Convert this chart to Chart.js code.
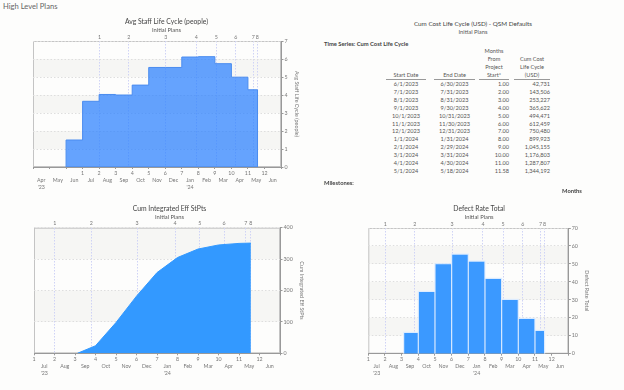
<!DOCTYPE html>
<html>
<head>
<meta charset="utf-8">
<script src="https://cdn.jsdelivr.net/npm/chart.js@4.4.1/dist/chart.umd.min.js"></script>
<style>
  html, body { margin: 0; padding: 0; }
  body { width: 624px; height: 390px; position: relative; overflow: hidden; background: #fdfdfc; font-family: Lato, "Open Sans", sans-serif; color: #555; }
  canvas { position: absolute; }
  .txt { position: absolute; white-space: nowrap; }
  #cost { position: absolute; left: 386px; top: 47px; border-collapse: collapse; table-layout: fixed; font-size: 5.6px; color: #555; }
  #cost th { font-weight: normal; line-height: 8px; vertical-align: bottom; text-align: center; border-bottom: 1px solid #999; padding: 0; }
  #cost th.gap { border-bottom: none; }
  #cost td { line-height: 7.9px; height: 7.9px; padding: 0; white-space: nowrap; }
  #cost td.c { text-align: center; }
  #cost td.r { text-align: right; }
</style>
</head>
<body>
<div class="txt" style="left:3px;top:2px;font-size:7.6px;line-height:9px;color:#666">High Level Plans</div>

<canvas id="staffChart" width="314" height="178" style="left:0;top:14px"></canvas>
<canvas id="effChart" width="314" height="180" style="left:0;top:201px"></canvas>
<canvas id="defectChart" width="314" height="180" style="left:310px;top:201px"></canvas>

<div class="txt" style="left:320px;width:306px;text-align:center;top:20px;font-size:6.3px;line-height:8px;color:#444">Cum Cost Life Cycle (USD) - QSM Defaults</div>
<div class="txt" style="left:320px;width:306px;text-align:center;top:27.5px;font-size:5.8px;line-height:7px">Initial Plans</div>
<div class="txt" style="left:324px;top:40px;font-size:5.8px;line-height:8px;font-weight:bold;color:#444">Time Series: Cum Cost Life Cycle</div>

<table id="cost">
  <colgroup><col style="width:40px"><col style="width:8px"><col style="width:41px"><col style="width:4px"><col style="width:30px"><col style="width:5px"><col style="width:36px"></colgroup>
  <thead>
    <tr><th>Start Date</th><th class="gap"></th><th>End Date</th><th class="gap"></th><th>Months<br>From<br>Project<br>Start*</th><th class="gap"></th><th>Cum Cost<br>Life Cycle<br>(USD)</th></tr>
  </thead>
  <tbody id="rows"></tbody>
</table>

<div class="txt" style="left:324px;top:179px;font-size:5.8px;line-height:8px;font-weight:bold;color:#444">Milestones:</div>
<div class="txt" style="left:562px;top:186.5px;font-size:5.8px;line-height:8px;font-weight:bold;color:#444">Months</div>

<script>
// months are counted from project start (1 Jun 2023 = 0)
const monthNames = ['Apr', 'May', 'Jun', 'Jul', 'Aug', 'Sep', 'Oct', 'Nov', 'Dec', 'Jan', 'Feb', 'Mar', 'Apr', 'May', 'Jun'];
const monthNameOffset = -2;   // monthNames[0] = Apr 2023
const yearLabels = ["'23", "'24"];
const janOffset = 7;

const milestoneMonths = [2.02, 3.79, 6.03, 7.88, 9.09, 10.27, 11.33, 11.57];
const milestoneLabels = ['1', '2', '3', '4', '5', '6', '7', '8'];

// Avg Staff Life Cycle (people): one value per month, edges in months
const staffEdges = [0, 1, 2, 3, 4, 5, 6, 7, 8, 9, 10, 11, 11.58];
const staffValues = [1.5, 3.65, 4.03, 4.0, 4.55, 5.53, 5.53, 6.11, 6.13, 5.74, 4.99, 4.29];

// Cum Integrated Eff StPts
const effMonths = [3.12, 4, 5, 6, 7, 8, 9, 10, 11, 11.58];
const effValues = [0, 24, 98, 182, 257, 305, 332, 345, 350, 351];

// Defect Rate Total
const defectStart = [3.12, 4, 5, 6, 7, 8, 9, 10, 11];
const defectEnd = [4, 5, 6, 7, 8, 9, 10, 11, 11.58];
const defectValues = [11.9, 34.7, 50.1, 55.5, 51.6, 42, 30.3, 19.7, 13];

// Cum Cost Life Cycle table
const startDates = ['6/1/2023', '7/1/2023', '8/1/2023', '9/1/2023', '10/1/2023', '11/1/2023', '12/1/2023', '1/1/2024', '2/1/2024', '3/1/2024', '4/1/2024', '5/1/2024'];
const endDates = ['6/30/2023', '7/31/2023', '8/31/2023', '9/30/2023', '10/31/2023', '11/30/2023', '12/31/2023', '1/31/2024', '2/29/2024', '3/31/2024', '4/30/2024', '5/18/2024'];
const monthsFromStart = [1, 2, 3, 4, 5, 6, 7, 8, 9, 10, 11, 11.58];
const cumCost = [42731, 143506, 253227, 365622, 494471, 612459, 750480, 899923, 1045155, 1176803, 1287807, 1344192];

// table rows
const tbody = document.getElementById('rows');
startDates.forEach((d, i) => {
    const tr = document.createElement('tr');
    tr.innerHTML = `<td class="c">${d}</td><td></td><td class="c">${endDates[i]}</td><td></td>` +
        `<td class="r">${monthsFromStart[i].toFixed(2)}</td><td></td><td class="r">${cumCost[i].toLocaleString('en-US')}</td>`;
    tbody.appendChild(tr);
});

Chart.defaults.font.family = 'Lato, "Open Sans", sans-serif';
Chart.defaults.color = '#777';

// light grey bands on every other y interval + plot frame
const bandsPlugin = {
    id: 'bands',
    beforeDraw(chart) {
        const { ctx, chartArea: a, scales: { y } } = chart;
        ctx.save();
        ctx.fillStyle = '#f6f6f4';
        y.ticks.forEach((t, i) => {
            if (i % 2 === 1 && i < y.ticks.length - 1) {
                const top = y.getPixelForValue(y.ticks[i + 1].value);
                const bot = y.getPixelForValue(t.value);
                ctx.fillRect(a.left, top, a.right - a.left, bot - top);
            }
        });
        ctx.strokeStyle = '#c4c4c4';
        ctx.lineWidth = 1;
        ctx.strokeRect(a.left + 0.5, a.top + 0.5, a.right - a.left - 1, a.bottom - a.top - 1);
        ctx.restore();
    }
};

function bottomTicks(min, max) {
    const t = [];
    for (let v = min; v <= max; v += 0.5) t.push({ value: v });
    return t;
}

function bottomLabel(v, min) {
    if (Number.isInteger(v)) return (v >= 1 && v <= 12) ? String(v) : '';
    const m = Math.floor(v);
    const name = monthNames[m - monthNameOffset];
    if (v === min + 0.5 || m === janOffset) return ['', name, m < janOffset ? yearLabels[0] : yearLabels[1]];
    return ['', name];
}

const tickFont = { size: 5.3, lineHeight: '7px' };

function planChart(id, o) {
    return new Chart(document.getElementById(id), {
        type: 'line',
        data: { datasets: o.datasets },
        options: {
            responsive: false,
            animation: false,
            layout: { padding: o.pad },
            plugins: {
                legend: { display: false },
                tooltip: { enabled: false },
                title: {
                    display: true, text: o.title, color: '#444',
                    font: { size: 6.8, weight: 'normal', lineHeight: '9px' },
                    padding: { top: 3.5, bottom: 0 }
                },
                subtitle: {
                    display: true, text: 'Initial Plans', color: '#555',
                    font: { size: 5.8, lineHeight: '7px' },
                    padding: { top: 0, bottom: 0 }
                }
            },
            scales: {
                x: {
                    type: 'linear', position: 'bottom', min: o.xMin, max: o.xMax,
                    afterBuildTicks: s => { s.ticks = bottomTicks(o.xMin, o.xMax); },
                    afterFit: s => { s.height = 24; },
                    grid: {
                        drawOnChartArea: false, tickLength: 2,
                        tickColor: c => Number.isInteger(c.tick.value) ? '#999' : 'rgba(0,0,0,0)'
                    },
                    border: { color: '#999' },
                    ticks: {
                        autoSkip: false, maxRotation: 0, minRotation: 0, padding: 0.5,
                        color: '#777', font: tickFont,
                        callback: v => bottomLabel(v, o.xMin)
                    }
                },
                x2: {
                    type: 'linear', position: 'top', min: o.xMin, max: o.xMax,
                    afterBuildTicks: s => { s.ticks = milestoneMonths.map(v => ({ value: v })); },
                    afterFit: s => { s.height = o.topH; },
                    grid: { drawTicks: false, color: '#cfd3f6' },
                    border: { display: false, dash: [1.5, 1.5] },
                    ticks: {
                        autoSkip: false, maxRotation: 0, minRotation: 0, padding: 0.5,
                        color: '#777', font: tickFont,
                        callback: (v, i) => milestoneLabels[i]
                    }
                },
                y: {
                    position: 'right', min: 0, max: o.yMax,
                    afterFit: s => { s.width = o.rightW; },
                    grid: { color: '#dedede', tickLength: 2.5, tickColor: '#999' },
                    border: { color: '#999', dash: [1.5, 2] },
                    ticks: { stepSize: o.yStep, padding: 1, color: '#777', font: { size: 5.3 } },
                    title: {
                        display: true, text: o.axisTitle, color: '#777',
                        font: { size: 5.4, lineHeight: '7px' }, padding: 0
                    }
                }
            }
        },
        plugins: [bandsPlugin]
    });
}

// staircase points
const staffPoints = [{ x: staffEdges[0], y: 0 }];
staffValues.forEach((v, i) => staffPoints.push({ x: staffEdges[i], y: v }));
staffPoints.push({ x: staffEdges[staffEdges.length - 1], y: 0 });

planChart('staffChart', {
    title: 'Avg Staff Life Cycle (people)',
    axisTitle: 'Avg Staff Life Cycle (people)',
    xMin: -2, xMax: 13, yMax: 7, yStep: 1,
    pad: { left: 33, right: 14, top: 0, bottom: 1 },
    topH: 7.5, rightW: 19,
    datasets: [{
        data: staffPoints,
        stepped: 'before',
        fill: 'origin',
        backgroundColor: 'rgba(41,128,255,0.72)',
        borderColor: '#4a8cef',
        borderWidth: 1,
        pointRadius: 0
    }]
});

planChart('effChart', {
    title: 'Cum Integrated Eff StPts',
    axisTitle: 'Cum Integrated Eff StPts',
    xMin: 1, xMax: 13, yMax: 400, yStep: 100,
    pad: { left: 34, right: 9, top: 0, bottom: 3.7 },
    topH: 7.2, rightW: 25,
    datasets: [{
        data: effMonths.map((m, i) => ({ x: m, y: effValues[i] })),
        fill: 'origin',
        tension: 0,
        backgroundColor: '#3399ff',
        borderColor: '#3399ff',
        borderWidth: 1,
        pointRadius: 0
    }]
});

// bars as outlined blocks between month edges
const defectPoints = [];
defectStart.forEach((s, i) => {
    defectPoints.push({ x: s, y: 0 }, { x: s, y: defectValues[i] }, { x: defectEnd[i], y: defectValues[i] }, { x: defectEnd[i], y: 0 });
});

planChart('defectChart', {
    title: 'Defect Rate Total',
    axisTitle: 'Defect Rate Total',
    xMin: 1, xMax: 13, yMax: 70, yStep: 10,
    pad: { left: 58.3, right: 34, top: 0, bottom: 3.3 },
    topH: 7.5, rightW: 21.7,
    datasets: [{
        data: defectPoints,
        fill: 'origin',
        tension: 0,
        backgroundColor: '#3b99ff',
        borderColor: 'rgba(225,238,255,0.95)',
        borderWidth: 1.2,
        pointRadius: 0
    }]
});
</script>
</body>
</html>
